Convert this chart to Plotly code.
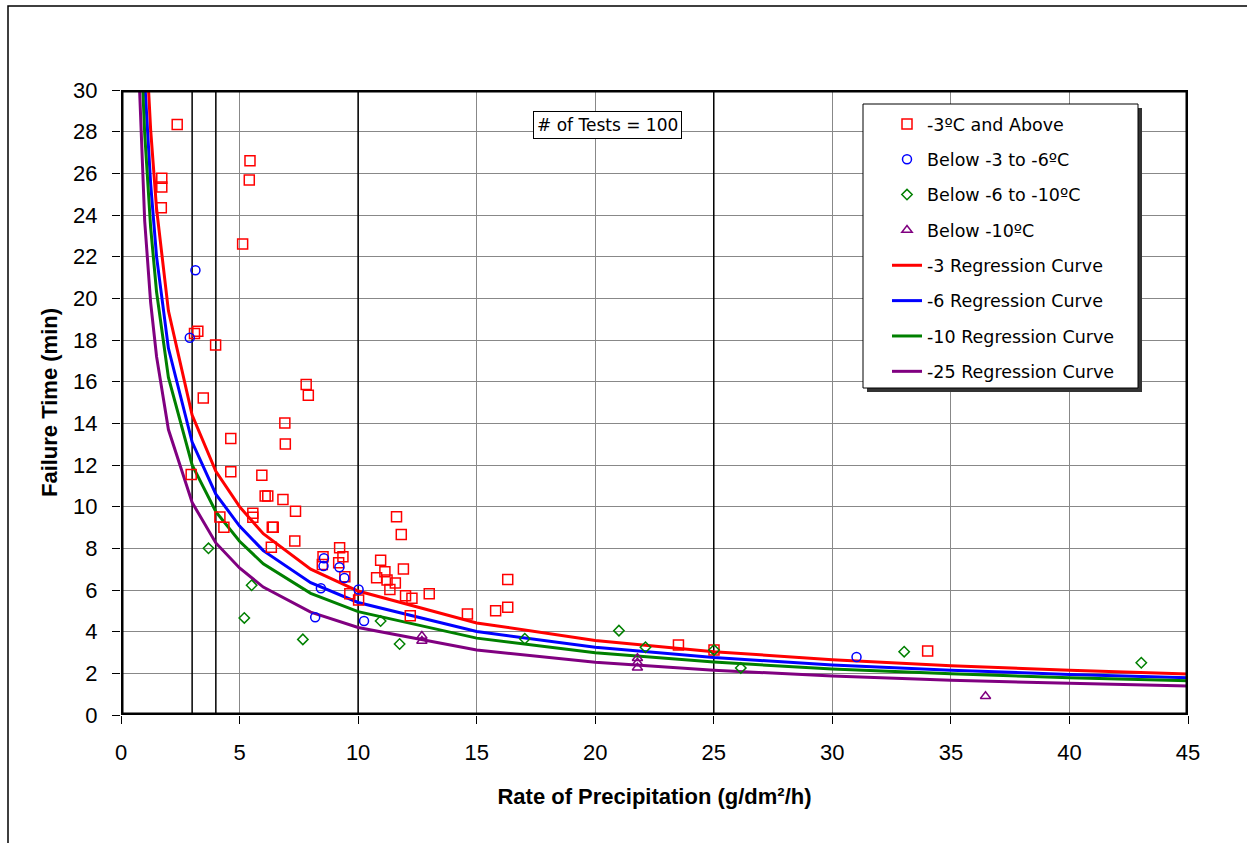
import plotly.graph_objects as go

# ---- data ----
sq_x = [2.37, 1.72, 1.72, 1.70, 5.44, 5.41, 5.13, 3.24, 3.10, 3.99, 7.81, 7.90, 3.47, 6.91, 6.93,
        4.63, 4.63, 2.96, 5.94, 6.08, 6.19, 6.83, 7.36, 5.56, 5.56, 4.17, 4.34, 6.38, 6.42, 7.33,
        6.34, 11.62, 11.82, 9.22, 9.36, 8.52, 8.49, 9.18, 9.44, 10.95, 11.13, 11.91, 10.78, 11.22,
        11.57, 11.34, 13.0, 12.0, 12.27, 9.65, 10.02, 12.2, 14.61, 15.8, 16.31, 16.31, 23.51, 25.01, 34.02]
sq_y = [28.35, 25.76, 25.35, 24.35, 26.6, 25.68, 22.61, 18.42, 18.31, 17.76, 15.86, 15.35, 15.22, 14.02, 13.01,
        13.27, 11.68, 11.54, 11.51, 10.51, 10.51, 10.34, 9.78, 9.68, 9.49, 9.51, 9.01, 9.01, 9.01, 8.35,
        8.05, 9.52, 8.67, 8.03, 7.6, 7.6, 7.23, 7.31, 6.64, 7.43, 6.88, 7.01, 6.59, 6.48,
        6.34, 6.02, 5.82, 5.73, 5.6, 5.82, 5.52, 4.77, 4.85, 5.01, 6.51, 5.17, 3.36, 3.12, 3.07]

ci_x = [3.14, 2.90, 8.56, 8.54, 9.21, 9.42, 10.02, 8.43, 8.19, 10.25, 31.02]
ci_y = [21.35, 18.11, 7.52, 7.15, 7.09, 6.58, 6.02, 6.08, 4.69, 4.51, 2.78]

di_x = [3.69, 5.51, 5.20, 7.67, 10.95, 11.75, 17.03, 21.0, 22.12, 25.01, 26.14, 33.03, 43.03]
di_y = [8.0, 6.23, 4.66, 3.63, 4.51, 3.41, 3.66, 4.05, 3.25, 3.12, 2.26, 3.04, 2.51]

tr_x = [12.69, 12.69, 21.78, 21.78, 21.78, 36.46]
tr_y = [3.79, 3.55, 2.72, 2.51, 2.27, 0.90]

curve_x = [0.75, 1, 1.25, 1.5, 2, 3, 4, 5, 6, 8, 10, 15, 20, 25, 30, 35, 40, 45]
curve_m3 = [41.5, 33.5, 28.1, 24.3, 19.4, 14.4, 11.7, 10.0, 8.7, 7.0, 5.95, 4.42, 3.58, 3.04, 2.65, 2.37, 2.15, 1.97]
curve_m6 = [37.6, 30.4, 25.5, 22.0, 17.6, 13.1, 10.6, 9.07, 7.89, 6.35, 5.40, 4.01, 3.25, 2.76, 2.40, 2.15, 1.95, 1.79]
curve_m10 = [34.6, 27.9, 23.4, 20.3, 16.2, 12.0, 9.76, 8.34, 7.26, 5.84, 4.96, 3.69, 2.99, 2.54, 2.21, 1.98, 1.79, 1.64]
curve_m25 = [31.0, 23.7, 19.8, 17.2, 13.7, 10.2, 8.26, 7.06, 6.14, 4.94, 4.20, 3.12, 2.53, 2.15, 1.87, 1.67, 1.52, 1.39]

x_ticks = [0, 5, 10, 15, 20, 25, 30, 35, 40, 45]
y_ticks = list(range(0, 31, 2))
ref_lines_x = [3, 4, 10, 25]
n_tests = 100

FONT = "Liberation Sans, Arial, sans-serif"
LFONT = "DejaVu Sans, Verdana, sans-serif"

fig = go.Figure()

curves = [
    (curve_m3, "#FF0000", "-3 Regression Curve"),
    (curve_m6, "#0000FF", "-6 Regression Curve"),
    (curve_m10, "#008000", "-10 Regression Curve"),
    (curve_m25, "#800080", "-25 Regression Curve"),
]
for i, (ys, col, name) in enumerate(curves):
    fig.add_trace(go.Scatter(x=curve_x, y=ys, mode="lines", name=name,
                             line=dict(color=col, width=3), legendgroup=name,
                             legendrank=10 + i))

points = [
    (sq_x, sq_y, "square-open", "#FF0000", 10, "-3ºC and Above"),
    (ci_x, ci_y, "circle-open", "#0000FF", 9, "Below -3 to -6ºC"),
    (di_x, di_y, "diamond-open", "#008000", 8, "Below -6 to -10ºC"),
    (tr_x, tr_y, "triangle-up-open", "#800080", 9, "Below -10ºC"),
]
for i, (xs, ys, sym, col, sz, name) in enumerate(points):
    fig.add_trace(go.Scatter(x=xs, y=ys, mode="markers", name=name,
                             marker=dict(symbol=sym, color=col, size=sz, line=dict(color=col, width=1.5)),
                             legendgroup=name, legendrank=i + 1))

L, R, T, B = 121, 1188, 90, 715
W, H = R - L, B - T

def px(v):
    return (v - L) / W

def py(v):
    return (B - v) / H

shapes = []
# outer page border
shapes.append(dict(type="rect", xref="paper", yref="paper", x0=px(8), x1=px(1300), y0=py(900), y1=py(6),
                   line=dict(color="black", width=1.5), fillcolor="rgba(0,0,0,0)", layer="below"))
# black reference lines
for xv in ref_lines_x:
    shapes.append(dict(type="line", xref="x", yref="y", x0=xv, x1=xv, y0=0, y1=30,
                       line=dict(color="black", width=1.5), layer="between"))
# legend shadow and box
shapes.append(dict(type="rect", xref="paper", yref="paper",
                   x0=px(867), x1=px(1142), y0=py(392), y1=py(108),
                   line=dict(width=0), fillcolor="#333333", layer="above"))
shapes.append(dict(type="rect", xref="paper", yref="paper",
                   x0=px(863), x1=px(1138), y0=py(388), y1=py(104),
                   line=dict(color="black", width=1), fillcolor="white", layer="above"))
# thick plot frame
shapes.append(dict(type="rect", xref="x", yref="y", x0=0, x1=45, y0=0, y1=30,
                   line=dict(color="black", width=5), fillcolor="rgba(0,0,0,0)", layer="above"))

fig.update_layout(
    width=1247, height=843, autosize=False,
    margin=dict(l=L, r=1247 - R, t=T, b=843 - B),
    paper_bgcolor="white", plot_bgcolor="white",
    shapes=shapes,
    showlegend=True,
    legend=dict(x=px(887), y=py(106), xanchor="left", yanchor="top",
                bgcolor="rgba(0,0,0,0)", borderwidth=0, traceorder="grouped",
                tracegroupgap=9.6, font=dict(family=LFONT, size=17.5, color="black")),
    annotations=[dict(x=20.5, y=28.3, xref="x", yref="y", text=f"# of Tests = {n_tests}",
                      showarrow=False, bgcolor="white", bordercolor="black", borderwidth=1,
                      borderpad=3, font=dict(family=LFONT, size=17, color="black"))],
    font=dict(family=FONT, color="black"),
)
fig.update_xaxes(range=[0, 45], tickvals=x_ticks, showgrid=True, gridcolor="#888888", gridwidth=1,
                 zeroline=False, showline=False, ticks="outside", ticklen=8, tickcolor="black",
                 tickfont=dict(family=FONT, size=22), ticklabelstandoff=10,
                 title=dict(text="Rate of Precipitation (g/dm²/h)", font=dict(family=FONT, size=22, weight="bold"), standoff=24))
fig.update_yaxes(range=[0, 30], tickvals=y_ticks, showgrid=True, gridcolor="#888888", gridwidth=1,
                 zeroline=False, showline=False, ticks="outside", ticklen=8, tickcolor="black",
                 tickfont=dict(family=FONT, size=22), ticklabelstandoff=10,
                 title=dict(text="Failure Time (min)", font=dict(family=FONT, size=22, weight="bold"), standoff=9))

fig.write_html("out.html", config={"displayModeBar": False},
               post_script="document.body.style.margin='0px';document.body.style.overflow='hidden';")
